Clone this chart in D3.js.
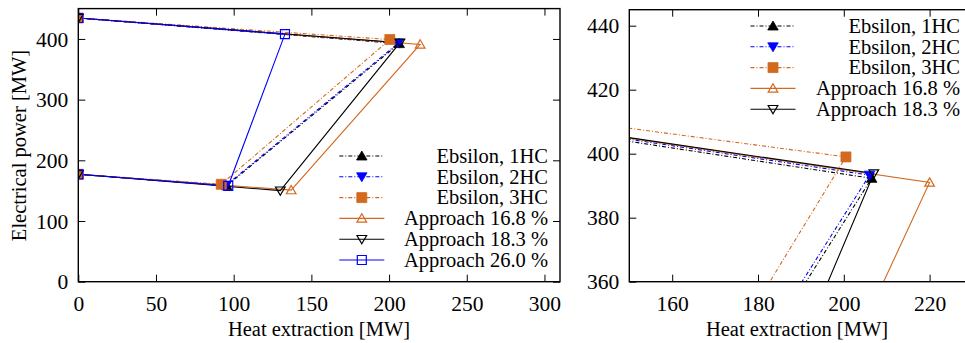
<!DOCTYPE html>
<html>
<head>
<meta charset="utf-8">
<script src="https://cdn.jsdelivr.net/npm/d3@7"></script>
<style>
  html, body { margin: 0; padding: 0; background: #fff; }
  text { font-family: "Liberation Serif", "Times New Roman", serif; font-size: 20.5px; fill: #000; }
</style>
</head>
<body>
<svg id="chart" width="965" height="343"></svg>
<script>
// ---- data ----
const seriesNames = ["Ebsilon, 1HC", "Ebsilon, 2HC", "Ebsilon, 3HC", "Approach 16.8 %", "Approach 18.3 %", "Approach 26.0 %"];
// heat extraction [MW] for each operating point (top-left, top-right, bottom-right, bottom-left)
const heatEbsilon1HC   = [0, 206.5, 95.5, 0];
const powerEbsilon1HC  = [434.5, 392.3, 158, 177];
const heatEbsilon2HC   = [0, 206, 95, 0];
const powerEbsilon2HC  = [434.5, 393.3, 158.5, 177];
const heatEbsilon3HC   = [0, 200.5, 92, 0];
const powerEbsilon3HC  = [434.5, 399, 160.5, 177];
const heatApproach168  = [0, 220, 137, 0];
const powerApproach168 = [434.5, 391, 151, 177];
const heatApproach183  = [0, 207, 130, 0];
const powerApproach183 = [434.5, 393.8, 150, 177];
const heatApproach260  = [0, 133, 96.5, 0];
const powerApproach260 = [434.5, 408, 158, 177];

const leftXTicks = [0, 50, 100, 150, 200, 250, 300];
const leftYTicks = [0, 100, 200, 300, 400];
const rightXTicks = [160, 180, 200, 220];
const rightYTicks = [360, 380, 400, 420, 440];

const xLabel = "Heat extraction [MW]";
const yLabel = "Electrical power [MW]";

// ---- styles ----
const ORANGE = "#d2691e", BLUE = "#0000ff", BLACK = "#000000";
const styles = [
  { color: BLACK,  dash: "4,2,1,2", marker: "triUp",   fill: true },
  { color: BLUE,   dash: "4,2,1,2", marker: "triDown", fill: true },
  { color: ORANGE, dash: "4,2,1,2", marker: "square",  fill: true },
  { color: ORANGE, dash: null,      marker: "triUp",   fill: false },
  { color: BLACK,  dash: null,      marker: "triDown", fill: false },
  { color: BLUE,   dash: null,      marker: "square",  fill: false }
];
const allData = [
  [heatEbsilon1HC, powerEbsilon1HC],
  [heatEbsilon2HC, powerEbsilon2HC],
  [heatEbsilon3HC, powerEbsilon3HC],
  [heatApproach168, powerApproach168],
  [heatApproach183, powerApproach183],
  [heatApproach260, powerApproach260]
];

const svg = d3.select("#chart");

function markerPath(type, filled) {
  const h = filled ? 5 : 4.6;
  if (type === "square") {
    const s = filled ? 5 : 4.5;
    return `M${-s},${-s}H${s}V${s}H${-s}Z`;
  }
  if (type === "triUp") return `M0,${-h}L${h*1.05},${h*0.8}L${-h*1.05},${h*0.8}Z`;
  return `M0,${h}L${h*1.05},${-h*0.8}L${-h*1.05},${-h*0.8}Z`;
}

function drawMarker(g, type, st, x, y) {
  g.append("path")
    .attr("d", markerPath(type, st.fill))
    .attr("transform", `translate(${x},${y})`)
    .attr("fill", st.fill ? st.color : "none")
    .attr("stroke", st.color)
    .attr("stroke-width", st.fill ? 0.8 : 1.2);
}

function drawPanel(cfg, idx) {
  const x = d3.scaleLinear().domain(cfg.xDomain).range(cfg.xRange);
  const y = d3.scaleLinear().domain(cfg.yDomain).range(cfg.yRange);
  const g = svg.append("g");
  const clipId = "clip" + idx;
  g.append("clipPath").attr("id", clipId).append("rect")
    .attr("x", cfg.xRange[0]).attr("y", cfg.yRange[1])
    .attr("width", cfg.xRange[1] - cfg.xRange[0]).attr("height", cfg.yRange[0] - cfg.yRange[1]);

  const plot = g.append("g").attr("clip-path", `url(#${clipId})`);
  const line = d3.line().x(d => x(d[0])).y(d => y(d[1]));
  cfg.series.forEach(i => {
    const st = styles[i];
    const pts = allData[i][0].map((h, k) => [h, allData[i][1][k]]);
    plot.append("path").datum(pts).attr("d", line)
      .attr("fill", "none").attr("stroke", st.color).attr("stroke-width", 1.1)
      .attr("stroke-dasharray", st.dash);
  });
  cfg.series.forEach(i => {
    const st = styles[i];
    allData[i][0].forEach((h, k) => drawMarker(plot, st.marker, st, x(h), y(allData[i][1][k])));
  });

  // axes (inside ticks on all sides)
  const tl = 7;
  const axB = d3.axisBottom(x).tickValues(cfg.xTicks).tickSizeInner(-tl).tickSizeOuter(0).tickPadding(14);
  const axT = d3.axisTop(x).tickValues(cfg.xTicks).tickSizeInner(-tl).tickSizeOuter(0).tickFormat("");
  const axL = d3.axisLeft(y).tickValues(cfg.yTicks).tickSizeInner(-tl).tickSizeOuter(0).tickPadding(10);
  const axR = d3.axisRight(y).tickValues(cfg.yTicks).tickSizeInner(-tl).tickSizeOuter(0).tickFormat("");
  const gb = g.append("g").attr("transform", `translate(0,${cfg.yRange[0]})`).call(axB);
  const gt = g.append("g").attr("transform", `translate(0,${cfg.yRange[1]})`).call(axT);
  const gl = g.append("g").attr("transform", `translate(${cfg.xRange[0]},0)`).call(axL);
  const gr = g.append("g").attr("transform", `translate(${cfg.xRange[1]},0)`).call(axR);
  [gb, gt, gl, gr].forEach(a => {
    a.select(".domain").remove();
    a.selectAll("line").attr("stroke", "#000").attr("stroke-width", 1);
    a.selectAll("text").attr("font-family", null).attr("font-size", null).style("font-family", "Liberation Serif").style("font-size", "21.5px").attr("fill", "#000");
  });
  gl.selectAll("text").attr("dy", "0.33em");
  gb.selectAll("text").attr("dy", "0.7em");

  g.append("rect")
    .attr("x", cfg.xRange[0]).attr("y", cfg.yRange[1])
    .attr("width", cfg.xRange[1] - cfg.xRange[0]).attr("height", cfg.yRange[0] - cfg.yRange[1])
    .attr("fill", "none").attr("stroke", "#000").attr("stroke-width", 1.4);

  // x label
  g.append("text").attr("x", cfg.xLabelX).attr("y", 336).attr("text-anchor", "middle").text(xLabel);

  // legend
  const lg = g.append("g");
  cfg.series.forEach((i, r) => {
    const st = styles[i];
    const yy = cfg.legendY0 + r * cfg.legendDy;
    lg.append("line").attr("x1", cfg.legendX).attr("x2", cfg.legendX + 45)
      .attr("y1", yy).attr("y2", yy).attr("stroke", st.color).attr("stroke-width", 1.1)
      .attr("stroke-dasharray", st.dash);
    drawMarker(lg, st.marker, st, cfg.legendX + 22.5, yy);
    lg.append("text").attr("x", cfg.legendTextX).attr("y", yy).attr("dy", "0.33em")
      .attr("text-anchor", "end").text(seriesNames[i]);
  });
}

drawPanel({
  xDomain: [0, 310], xRange: [78.3, 560],
  yDomain: [0, 450], yRange: [281.7, 8.6],
  xTicks: leftXTicks, yTicks: leftYTicks,
  series: [0, 1, 2, 3, 4, 5],
  legendX: 339.3, legendTextX: 548, legendY0: 156, legendDy: 20.8,
  xLabelX: 319
}, 0);

drawPanel({
  xDomain: [150, 230], xRange: [629.3, 972.5],
  yDomain: [360, 445], yRange: [281.7, 9.7],
  xTicks: rightXTicks, yTicks: rightYTicks,
  series: [0, 1, 2, 3, 4],
  legendX: 750.5, legendTextX: 960, legendY0: 26, legendDy: 20.8,
  xLabelX: 797
}, 1);

svg.append("text")
  .attr("transform", "translate(19,145.5) rotate(-90)")
  .attr("dy", "0.33em")
  .attr("text-anchor", "middle").text(yLabel);
</script>
</body>
</html>
